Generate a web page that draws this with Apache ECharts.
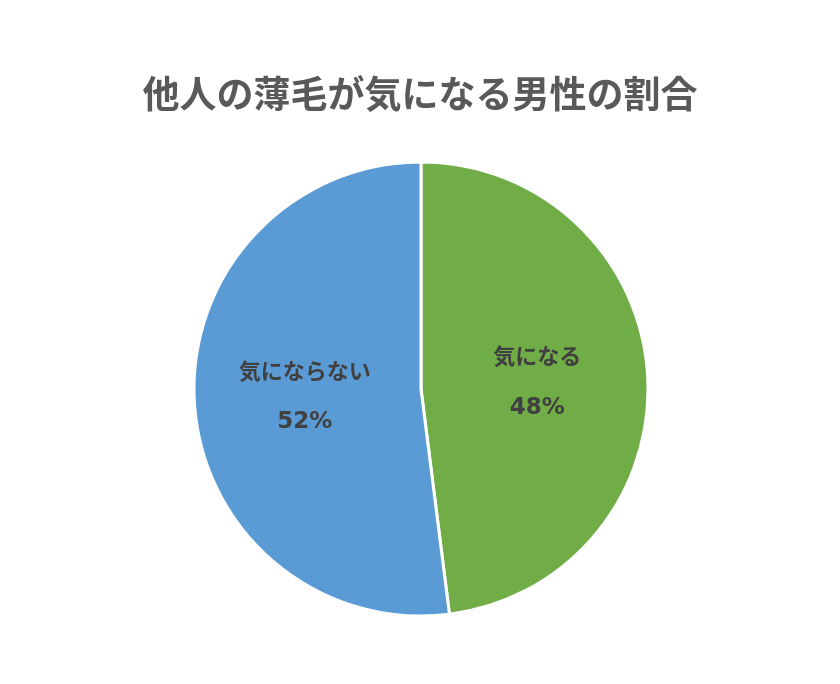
<!DOCTYPE html>
<html>
<head>
<meta charset="utf-8">
<script src="https://cdn.jsdelivr.net/npm/echarts@6/dist/echarts.min.js"></script>
<style>
  html, body { margin: 0; padding: 0; background: #fff; }
  #chart { width: 840px; height: 684px; }
</style>
</head>
<body>
<div id="chart"></div>
<script>
const categories = ['気になる', '気にならない'];
const values = [48, 52];
const colors = ['#70AD47', '#5B9BD5'];

const myChart = echarts.init(document.getElementById('chart'));
myChart.setOption({
  title: {
    text: '他人の薄毛が気になる男性の割合',
    left: 'center',
    top: 70,
    textStyle: {
      color: '#595959',
      fontSize: 37,
      fontWeight: 'bold',
      fontFamily: 'Noto Sans CJK JP'
    }
  },
  color: colors,
  series: [
    {
      type: 'pie',
      center: [421, 389],
      radius: 227,
      startAngle: 90,
      clockwise: true,
      itemStyle: {
        borderColor: '#fff',
        borderWidth: 3
      },
      label: {
        show: true,
        position: 'inside',
        formatter: '{b|{b}}\n{d|{d}%}',
        rich: {
          b: {
            color: '#404040',
            fontSize: 22,
            fontWeight: 'bold',
            lineHeight: 52,
            fontFamily: 'Noto Sans CJK JP'
          },
          d: {
            color: '#404040',
            fontSize: 23,
            fontWeight: 'bold',
            lineHeight: 52,
            fontFamily: 'DejaVu Sans'
          }
        }
      },
      labelLine: { show: false },
      emphasis: { disabled: true },
      data: categories.map((name, i) => ({ name: name, value: values[i] }))
    }
  ]
});
</script>
</body>
</html>
